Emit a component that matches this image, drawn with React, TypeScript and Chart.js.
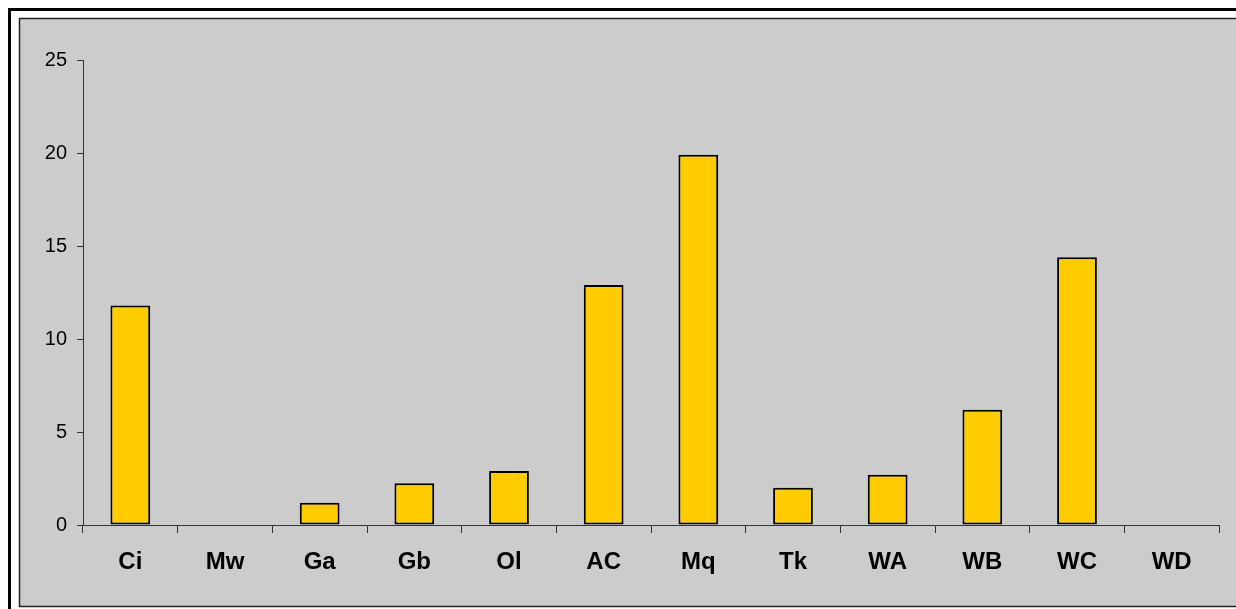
import React, { useEffect, useRef } from "react";
import { Chart, registerables } from "chart.js";

Chart.register(...registerables);

const categories = ["Ci", "Mw", "Ga", "Gb", "Ol", "AC", "Mq", "Tk", "WA", "WB", "WC", "WD"];
const values: (number | null)[] = [11.8, null, 1.2, 2.25, 2.9, 12.9, 19.9, 2.0, 2.7, 6.2, 14.4, null];
const yMin = 0;
const yMax = 25;
const yStep = 5;

const W = 1236;
const H = 609;

const framePlugin = {
  id: "frame",
  beforeDraw(chart: any) {
    const ctx = chart.ctx as CanvasRenderingContext2D;
    ctx.save();
    ctx.fillStyle = "#ffffff";
    ctx.fillRect(0, 0, W, H);
    ctx.fillStyle = "#000000";
    ctx.fillRect(8, 8, W - 8, 3);
    ctx.fillRect(8, 8, 3, H - 8);
    ctx.fillStyle = "#cccccc";
    ctx.fillRect(19, 18, W - 19, 589);
    ctx.strokeStyle = "#222222";
    ctx.lineWidth = 1.5;
    ctx.strokeRect(19.5, 18.5, W + 10, 588);
    ctx.restore();
  },
};

export default function App() {
  const ref = useRef<HTMLCanvasElement | null>(null);

  useEffect(() => {
    if (!ref.current) return;
    const chart = new Chart(ref.current, {
      type: "bar",
      data: {
        labels: categories,
        datasets: [
          {
            data: values,
            backgroundColor: "#ffcc00",
            borderColor: "#000000",
            borderWidth: 2,
            borderSkipped: false,
            categoryPercentage: 1,
            barPercentage: 0.42,
          },
        ],
      },
      options: {
        animation: false,
        responsive: false,
        devicePixelRatio: 1,
        layout: { padding: { top: 60, right: 17, left: 0, bottom: 0 } },
        plugins: {
          legend: { display: false },
          tooltip: { enabled: false },
          title: { display: false },
        },
        scales: {
          x: {
            offset: true,
            grid: {
              display: true,
              offset: true,
              drawOnChartArea: false,
              drawTicks: true,
              tickLength: 8,
              color: "#333333",
              lineWidth: 1,
            },
            border: { display: true, color: "#333333", width: 1 },
            ticks: {
              color: "#000000",
              padding: 15,
              maxRotation: 0,
              autoSkip: false,
              font: { family: "'Liberation Sans', Arial, sans-serif", size: 24, weight: "bold" },
            },
            afterFit(scale: any) {
              scale.height = 84;
            },
          },
          y: {
            min: yMin,
            max: yMax,
            grid: {
              display: true,
              drawOnChartArea: false,
              drawTicks: true,
              tickLength: 6,
              color: "#333333",
              lineWidth: 1,
            },
            border: { display: true, color: "#333333", width: 1 },
            ticks: {
              stepSize: yStep,
              color: "#000000",
              padding: 10,
              font: { family: "'Liberation Sans', Arial, sans-serif", size: 20 },
            },
            afterFit(scale: any) {
              scale.width = 83;
            },
          },
        },
      },
      plugins: [framePlugin],
    });
    return () => chart.destroy();
  }, []);

  return (
    <div style={{ position: "absolute", left: 0, top: 0, width: W, height: H }}>
      <canvas ref={ref} width={W} height={H} style={{ display: "block", width: W, height: H }} />
    </div>
  );
}
